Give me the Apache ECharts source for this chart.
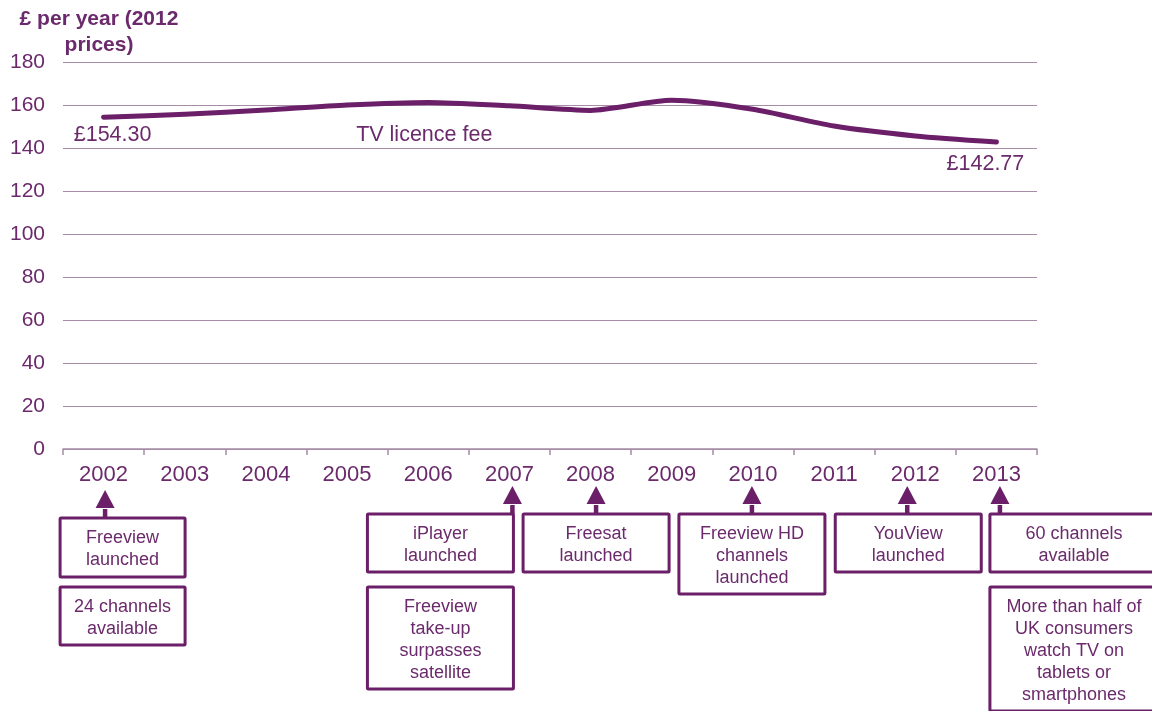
<!DOCTYPE html>
<html>
<head>
<meta charset="utf-8">
<title>TV licence fee</title>
<script src="https://cdn.jsdelivr.net/npm/echarts@6/dist/echarts.min.js"></script>
<style>
  html, body { margin: 0; padding: 0; background: #ffffff; }
  #chart { width: 1152px; height: 711px; }
</style>
</head>
<body>
<div id="chart"></div>
<script>
// Years on the category axis
const years = ['2002', '2003', '2004', '2005', '2006', '2007', '2008', '2009', '2010', '2011', '2012', '2013'];
// TV licence fee, £ per year in 2012 prices
const licenceFee = [154.30, 155.7, 157.7, 160.0, 161.2, 159.6, 157.5, 162.2, 158.0, 150.2, 145.6, 142.77];
// Value-axis ticks
const yTicks = [0, 20, 40, 60, 80, 100, 120, 140, 160, 180];

// Milestones shown under the axis: year and the text of each stacked box
const milestoneYears = ['2002', '2007', '2008', '2010', '2012', '2013'];
const milestoneTexts = [
  [['Freeview', 'launched'], ['24 channels', 'available']],
  [['iPlayer', 'launched'], ['Freeview', 'take-up', 'surpasses', 'satellite']],
  [['Freesat', 'launched']],
  [['Freeview HD', 'channels', 'launched']],
  [['YouView', 'launched']],
  [['60 channels', 'available'], ['More than half of', 'UK consumers', 'watch TV on', 'tablets or', 'smartphones']]
];

const PURPLE = '#6a1f68';
const TEXT = '#6b2a6b';
const GRID = '#a78ca7';
const FONT = '"Liberation Sans", Arial, sans-serif';

const chart = echarts.init(document.getElementById('chart'), null, { renderer: 'canvas' });

chart.setOption({
  animation: false,
  backgroundColor: '#ffffff',
  grid: { left: 63, right: 115, top: 62, bottom: 262, containLabel: false },
  xAxis: {
    type: 'category',
    data: years,
    boundaryGap: true,
    axisLine: { show: true, lineStyle: { color: GRID, width: 1.5 } },
    axisTick: { show: true, length: 6, lineStyle: { color: GRID, width: 1.5 } },
    axisLabel: { color: TEXT, fontSize: 22, fontFamily: FONT, margin: 15 }
  },
  yAxis: {
    type: 'value',
    min: yTicks[0],
    max: yTicks[yTicks.length - 1],
    interval: yTicks[1] - yTicks[0],
    axisLine: { show: false },
    axisTick: { show: false },
    splitLine: { lineStyle: { color: GRID, width: 1.2 } },
    axisLabel: { color: TEXT, fontSize: 21, fontFamily: FONT, margin: 18 }
  },
  series: [{
    name: 'TV licence fee',
    type: 'line',
    data: licenceFee,
    smooth: 0.25,
    symbol: 'circle',
    symbolSize: 1,
    showSymbol: true,
    itemStyle: { color: PURPLE },
    lineStyle: { color: PURPLE, width: 5, cap: 'round', join: 'round' },
    label: {
      show: true,
      position: 'bottom',
      color: TEXT,
      fontSize: 21.5,
      fontFamily: FONT,
      formatter: function (p) {
        if (p.dataIndex === 0 || p.dataIndex === licenceFee.length - 1) {
          return '£' + p.value.toFixed(2);
        }
        if (p.dataIndex === 4) return p.seriesName;
        return '';
      }
    },
    labelLayout: function (params) {
      if (params.dataIndex === 0) return { dx: 9, dy: 1 };
      if (params.dataIndex === 4) return { dx: -4, dy: 16 };
      if (params.dataIndex === licenceFee.length - 1) return { dx: -11, dy: 6 };
      return {};
    }
  }]
});

// Layout of the milestone boxes: arrow shift from the category centre,
// box left edge relative to the arrow, box width, top of the first box
// and top of the second box
const milestoneLayout = [
  { dx: 1.5, left: -45, width: 125, top: 518, second: 587 },
  { dx: 3, left: -145, width: 146, top: 514, second: 587 },
  { dx: 5.5, left: -73, width: 146, top: 514, second: 587 },
  { dx: -1, left: -73, width: 146, top: 514, second: 587 },
  { dx: -8, left: -72, width: 146, top: 514, second: 587 },
  { dx: 3.5, left: -10, width: 168, top: 514, second: 587 }
];

function buildGraphics() {
  const elements = [{
    type: 'text',
    x: 99,
    y: 6,
    style: {
      text: '£ per year (2012\nprices)',
      font: 'bold 21px ' + FONT,
      fill: TEXT,
      align: 'center',
      verticalAlign: 'top',
      lineHeight: 26
    }
  }];
  const LINE_H = 22, PAD = 7, HEAD_H = 18, HEAD_W = 19, STEM = 10;
  milestoneYears.forEach(function (year, i) {
    const lay = milestoneLayout[i];
    const ax = chart.convertToPixel({ xAxisIndex: 0 }, year) + lay.dx;
    const boxTop = lay.top;
    const headBase = boxTop - STEM;
    const tip = headBase - HEAD_H;
    elements.push({
      type: 'line',
      shape: { x1: ax, y1: boxTop, x2: ax, y2: headBase + 1 },
      style: { stroke: PURPLE, lineWidth: 4.5 },
      z: 10
    });
    elements.push({
      type: 'polygon',
      shape: { points: [[ax, tip], [ax - HEAD_W / 2, headBase], [ax + HEAD_W / 2, headBase]] },
      style: { fill: PURPLE },
      z: 10
    });
    milestoneTexts[i].forEach(function (lines, k) {
      const y = k === 0 ? lay.top : lay.second;
      const h = lines.length * LINE_H + PAD * 2 + (k === 0 && lay.top === 518 ? 1 : 0);
      const x = ax + lay.left;
      elements.push({
        type: 'rect',
        shape: { x: x, y: y, width: lay.width, height: h, r: 1 },
        style: { fill: '#ffffff', stroke: PURPLE, lineWidth: 3 },
        z: 11
      });
      elements.push({
        type: 'text',
        x: x + lay.width / 2,
        y: y + PAD + 2,
        style: {
          text: lines.join('\n'),
          font: '18px ' + FONT,
          fill: TEXT,
          align: 'center',
          verticalAlign: 'top',
          lineHeight: LINE_H
        },
        z: 12
      });
    });
  });
  return elements;
}

chart.setOption({ graphic: { elements: buildGraphics() } });
</script>
</body>
</html>
